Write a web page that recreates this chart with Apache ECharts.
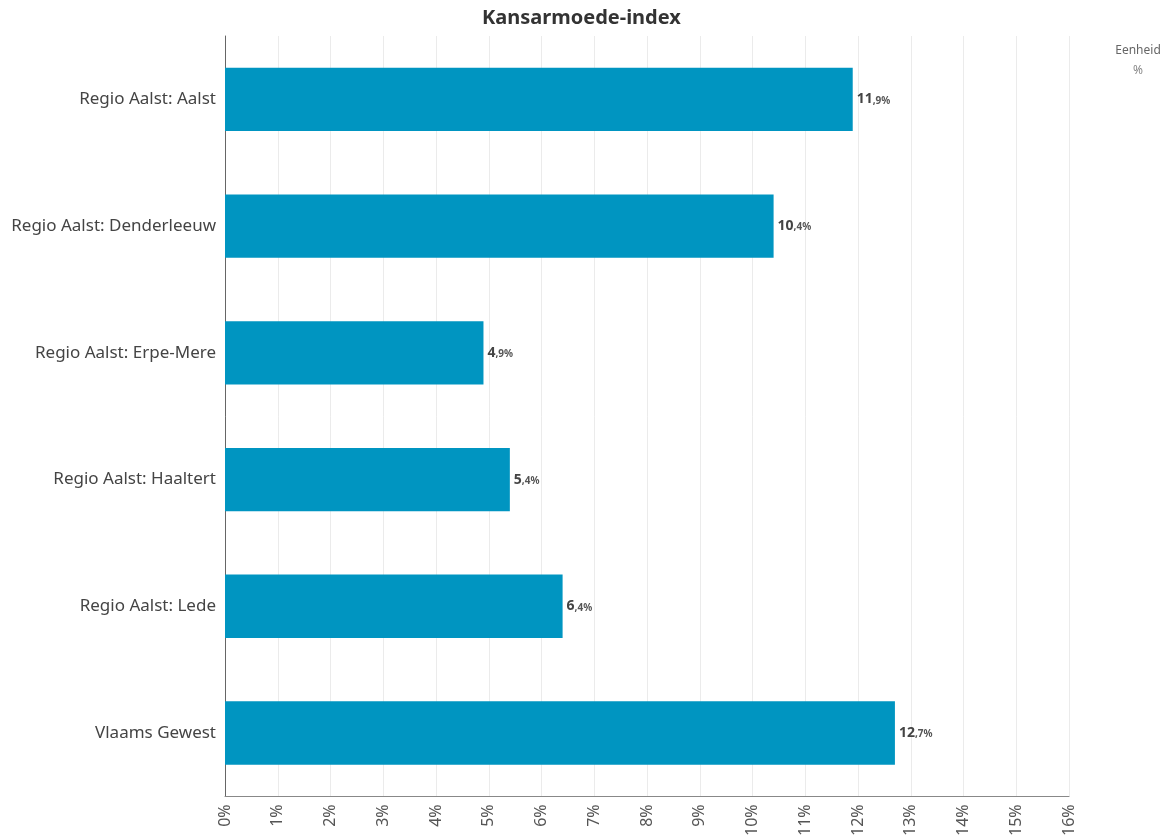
<!DOCTYPE html>
<html><head><meta charset="utf-8">
<script src="https://cdn.jsdelivr.net/npm/echarts@6/dist/echarts.min.js"></script>
<style>html,body{margin:0;padding:0;background:#fff}#c{width:1170px;height:839px}</style>
</head><body><div id="c"></div>
<script>
const categories = ["Regio Aalst: Aalst","Regio Aalst: Denderleeuw","Regio Aalst: Erpe-Mere","Regio Aalst: Haaltert","Regio Aalst: Lede","Vlaams Gewest"];
const values = [11.9, 10.4, 4.9, 5.4, 6.4, 12.7];
const ticks = {min:0, max:16, interval:1};
const FONT = "Noto Sans";
const chart = echarts.init(document.getElementById('c'));
chart.setOption({
  animation:false,
  textStyle:{fontFamily:FONT},
  title:[{text:"Kansarmoede-index",left:477,top:3,textStyle:{fontFamily:FONT,fontSize:20,fontWeight:'bold',color:'#333'}},
         {text:"Eenheid",subtext:"%",left:1133,textAlign:'center',top:40,itemGap:8,
          textStyle:{fontFamily:FONT,fontSize:12,fontWeight:'normal',color:'#666'},
          subtextStyle:{fontFamily:FONT,fontSize:12,color:'#888'}}],
  grid:{left:225,right:101,top:36,bottom:41,containLabel:false},
  xAxis:{type:'value',min:ticks.min,max:ticks.max,interval:ticks.interval,
    axisLine:{show:true,lineStyle:{color:'#888'}},axisTick:{show:false},
    splitLine:{show:true,lineStyle:{color:'#ebebeb'}},
    axisLabel:{rotate:90,formatter:'{value}%',color:'#555',fontSize:16,margin:8}},
  yAxis:{type:'category',data:categories,inverse:true,
    axisLine:{show:true,lineStyle:{color:'#666'}},axisTick:{show:false},
    axisLabel:{color:'#444',fontSize:17,margin:9}},
  series:[{type:'bar',data:values,barWidth:'50%',itemStyle:{color:'#0095c1'},
    label:{show:true,position:'right',distance:4,
      formatter:p=>{const s=p.value.toFixed(1).split('.');return '{a|'+s[0]+'}{b|,'+s[1]+'%}';},
      rich:{a:{fontFamily:FONT,fontSize:14,fontWeight:'bold',color:'#444'},b:{fontFamily:FONT,fontSize:10,fontWeight:'bold',color:'#555',padding:[3,0,0,0]}}}}]
});
</script></body></html>
